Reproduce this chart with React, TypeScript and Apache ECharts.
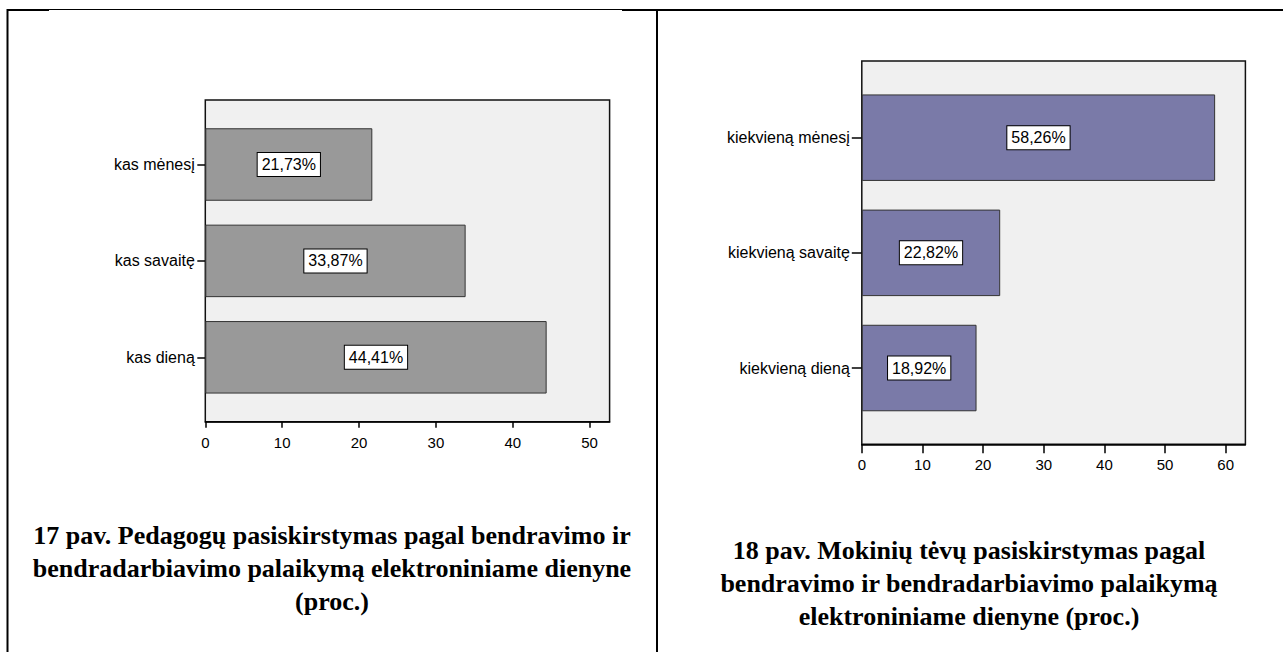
import React, { useEffect, useRef } from "react";
import * as echarts from "echarts";

// Left chart (17 pav.) — bottom to top
const leftCategories = ["kas dieną", "kas savaitę", "kas mėnesį"];
const leftValues = [44.41, 33.87, 21.73];
const leftXTicks = [0, 10, 20, 30, 40, 50];
const leftXMax = 52.6;

// Right chart (18 pav.) — bottom to top
const rightCategories = ["kiekvieną dieną", "kiekvieną savaitę", "kiekvieną mėnesį"];
const rightValues = [18.92, 22.82, 58.26];
const rightXTicks = [0, 10, 20, 30, 40, 50, 60];
const rightXMax = 63.25;

const leftCaption = [
  "17 pav. Pedagogų pasiskirstymas pagal bendravimo ir",
  "bendradarbiavimo palaikymą elektroniniame dienyne",
  "(proc.)",
];
const rightCaption = [
  "18 pav. Mokinių tėvų pasiskirstymas pagal",
  "bendravimo ir bendradarbiavimo palaikymą",
  "elektroniniame dienyne (proc.)",
];

const SANS = '"Liberation Sans", Arial, sans-serif';

function fmt(v: number) {
  return v.toFixed(2).replace(".", ",") + "%";
}

export default function App() {
  const ref = useRef<HTMLDivElement>(null);
  useEffect(() => {
    if (!ref.current) return;
    const chart = echarts.init(ref.current, undefined, { renderer: "svg" });

    const frameGrid = (left: number, top: number, width: number, height: number) => ({
      left, top, width, height, show: true, backgroundColor: "#f0f0f0",
      borderColor: "#111", borderWidth: 1.5, containLabel: false,
    });
    const barGrid = (left: number, top: number, width: number, height: number) => ({
      left, top, width, height, show: false, containLabel: false,
    });

    const visibleX = (grid: number, max: number, ticks: number[], tickLen: number, margin: number) => ({
      gridIndex: grid, type: "value", min: 0, max,
      axisLine: { show: true, lineStyle: { color: "#000", width: 1.5 } },
      axisTick: { show: true, length: tickLen, customValues: ticks, lineStyle: { color: "#000", width: 1.5 } },
      axisLabel: { show: true, customValues: ticks, margin, color: "#000", fontSize: 15, fontFamily: SANS },
      splitLine: { show: false },
    });
    const hiddenX = (grid: number, max: number) => ({
      gridIndex: grid, type: "value", min: 0, max, show: false, splitLine: { show: false },
    });
    const hiddenY = (grid: number) => ({
      gridIndex: grid, type: "value", show: false, splitLine: { show: false },
    });
    const catY = (grid: number, cats: string[], tickLen: number, margin: number) => ({
      gridIndex: grid, type: "category", data: cats,
      axisLine: { show: false },
      axisTick: { show: true, alignWithLabel: true, length: tickLen, lineStyle: { color: "#000", width: 1.5 } },
      axisLabel: { margin, color: "#000", fontSize: 16, fontFamily: SANS },
      splitLine: { show: false },
    });

    const labelStyle = {
      show: true, position: "inside", color: "#000", fontSize: 16, fontFamily: SANS,
      backgroundColor: "#fff", borderColor: "#000", borderWidth: 1, padding: [4, 4, 3, 4],
      formatter: (p: any) => fmt(p.value),
    };

    const graphics: any[] = [];
    // table frame lines
    const line = (x1: number, y1: number, x2: number, y2: number, w: number) => ({
      type: "line", shape: { x1, y1, x2, y2 }, style: { stroke: "#000", lineWidth: w }, silent: true,
    });
    graphics.push(line(7, 10, 49, 10, 2));
    graphics.push(line(49, 9.5, 622, 9.5, 1));
    graphics.push(line(622, 10, 1283, 10, 2));
    graphics.push(line(7.5, 9, 7.5, 652, 2));
    graphics.push(line(657, 9, 657, 652, 2));

    const captionFont = 'bold 26px "Liberation Serif", "Times New Roman", serif';
    leftCaption.forEach((t, i) => {
      graphics.push({
        type: "text", x: 332, y: 535 + i * 33, silent: true,
        style: { text: t, fill: "#000", font: captionFont, align: "center", verticalAlign: "middle", textAlign: "center", textVerticalAlign: "middle" },
      });
    });
    rightCaption.forEach((t, i) => {
      graphics.push({
        type: "text", x: 969, y: 550 + i * 33, silent: true,
        style: { text: t, fill: "#000", font: captionFont, align: "center", verticalAlign: "middle", textAlign: "center", textVerticalAlign: "middle" },
      });
    });

    chart.setOption({
      animation: false,
      backgroundColor: "#fff",
      grid: [
        frameGrid(205.3, 100, 404.3, 321.7),
        barGrid(205.3, 116.3, 404.3, 289.2),
        frameGrid(861.8, 61, 383.6, 383.3),
        barGrid(861.8, 80.1, 383.6, 345.5),
      ],
      xAxis: [
        visibleX(0, leftXMax, leftXTicks, 6, 13),
        hiddenX(1, leftXMax),
        visibleX(2, rightXMax, rightXTicks, 9, 13),
        hiddenX(3, rightXMax),
      ],
      yAxis: [
        hiddenY(0),
        catY(1, leftCategories, 8, 10.5),
        hiddenY(2),
        catY(3, rightCategories, 10, 12),
      ],
      series: [
        {
          type: "bar", xAxisIndex: 1, yAxisIndex: 1, data: leftValues, barWidth: 72.5,
          itemStyle: { color: "#999999", borderColor: "#333", borderWidth: 1 },
          label: labelStyle,
        },
        {
          type: "bar", xAxisIndex: 3, yAxisIndex: 3, data: rightValues, barWidth: 86.5,
          itemStyle: { color: "#7a7aa8", borderColor: "#333", borderWidth: 1 },
          label: labelStyle,
        },
      ],
      graphic: graphics,
    });
    return () => chart.dispose();
  }, []);
  return (
    <div
      ref={ref}
      style={{ position: "fixed", left: 0, top: 0, width: 1283, height: 652 }}
    />
  );
}
